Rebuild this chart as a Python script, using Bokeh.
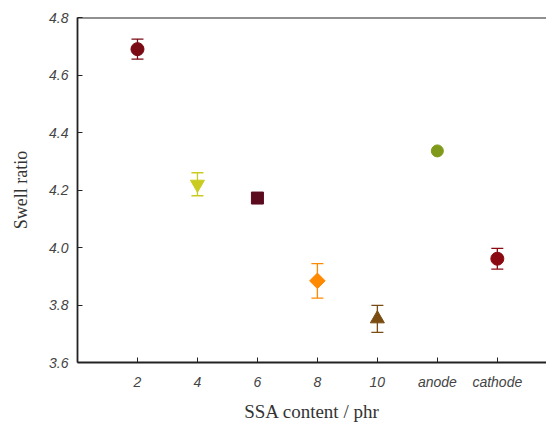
import math
from bokeh.plotting import figure
from bokeh.models import ColumnDataSource, Whisker, TeeHead, FixedTicker, Span
from bokeh.embed import file_html
from bokeh.resources import INLINE

categories = ["2", "4", "6", "8", "10", "anode", "cathode"]
positions = [1, 2, 3, 4, 5, 6, 7]
swell = [4.69, 4.22, 4.172, 3.884, 3.752, 4.336, 3.961]
errors = [0.035, 0.04, 0.0, 0.06, 0.047, 0.0, 0.036]
markers = ["circle", "inverted_triangle", "square", "square", "triangle", "circle", "circle"]
angles = [0, 0, 0, math.pi / 4, 0, 0, 0]
colors = ["#7a0a14", "#c9cc1e", "#5c0a1e", "#ff8a00", "#7a4c12", "#7f9a1a", "#8b0a12"]
sizes = [13, 14, 12, 11, 14, 12, 13]
y_ticks = [3.6, 3.8, 4.0, 4.2, 4.4, 4.6, 4.8]

p = figure(width=546, height=427, output_backend="svg", toolbar_location=None,
           x_range=(0, 7.82), y_range=(3.6, 4.8),
           min_border_left=77, min_border_right=0, min_border_top=17, min_border_bottom=65)
p.outline_line_color = None
p.grid.grid_line_color = None
p.background_fill_color = "white"
p.border_fill_color = "white"

p.add_layout(Span(location=4.8, dimension="width", line_color="#222222", line_width=1.8))

for i in range(len(positions)):
    src = ColumnDataSource(dict(x=[positions[i]], y=[swell[i]],
                                lo=[swell[i] - errors[i]], hi=[swell[i] + errors[i]]))
    if errors[i] > 0:
        w = Whisker(base="x", upper="hi", lower="lo", source=src, dimension="height",
                    line_color=colors[i], line_width=1.3,
                    upper_head=TeeHead(size=12, line_color=colors[i], line_width=1.3),
                    lower_head=TeeHead(size=12, line_color=colors[i], line_width=1.3))
        p.add_layout(w)
    p.scatter(x="x", y="y", source=src, marker=markers[i], size=sizes[i], angle=angles[i],
              fill_color=colors[i], line_color=colors[i])

xa = p.xaxis[0]
xa.ticker = FixedTicker(ticks=positions)
xa.major_label_overrides = {pos: lab for pos, lab in zip(positions, categories)}
xa.minor_tick_line_color = None
xa.major_tick_in = 5
xa.major_tick_out = 0
xa.axis_line_width = 1.8
xa.axis_line_color = "#222222"
xa.major_tick_line_color = "#222222"
xa.major_label_text_font = "Liberation Sans"
xa.major_label_text_font_style = "italic"
xa.major_label_text_font_size = "14px"
xa.major_label_text_color = "#444444"
xa.major_label_standoff = 11
xa.axis_label = "SSA content / phr"
xa.axis_label_text_font = "Liberation Serif"
xa.axis_label_text_font_style = "normal"
xa.axis_label_text_font_size = "19px"
xa.axis_label_text_color = "#333333"
xa.axis_label_standoff = 8

ya = p.yaxis[0]
ya.ticker = FixedTicker(ticks=y_ticks)
ya.major_label_overrides = {t: "%.1f" % t for t in y_ticks}
ya.minor_tick_line_color = None
ya.major_tick_in = 5
ya.major_tick_out = 0
ya.axis_line_width = 1.8
ya.axis_line_color = "#222222"
ya.major_tick_line_color = "#222222"
ya.major_label_text_font = "Liberation Sans"
ya.major_label_text_font_style = "italic"
ya.major_label_text_font_size = "14px"
ya.major_label_text_color = "#444444"
ya.major_label_standoff = 9
ya.axis_label = "Swell ratio"
ya.axis_label_text_font = "Liberation Serif"
ya.axis_label_text_font_style = "normal"
ya.axis_label_text_font_size = "18px"
ya.axis_label_text_color = "#333333"
ya.axis_label_standoff = 15

open("out.html", "w").write(file_html(p, INLINE))
